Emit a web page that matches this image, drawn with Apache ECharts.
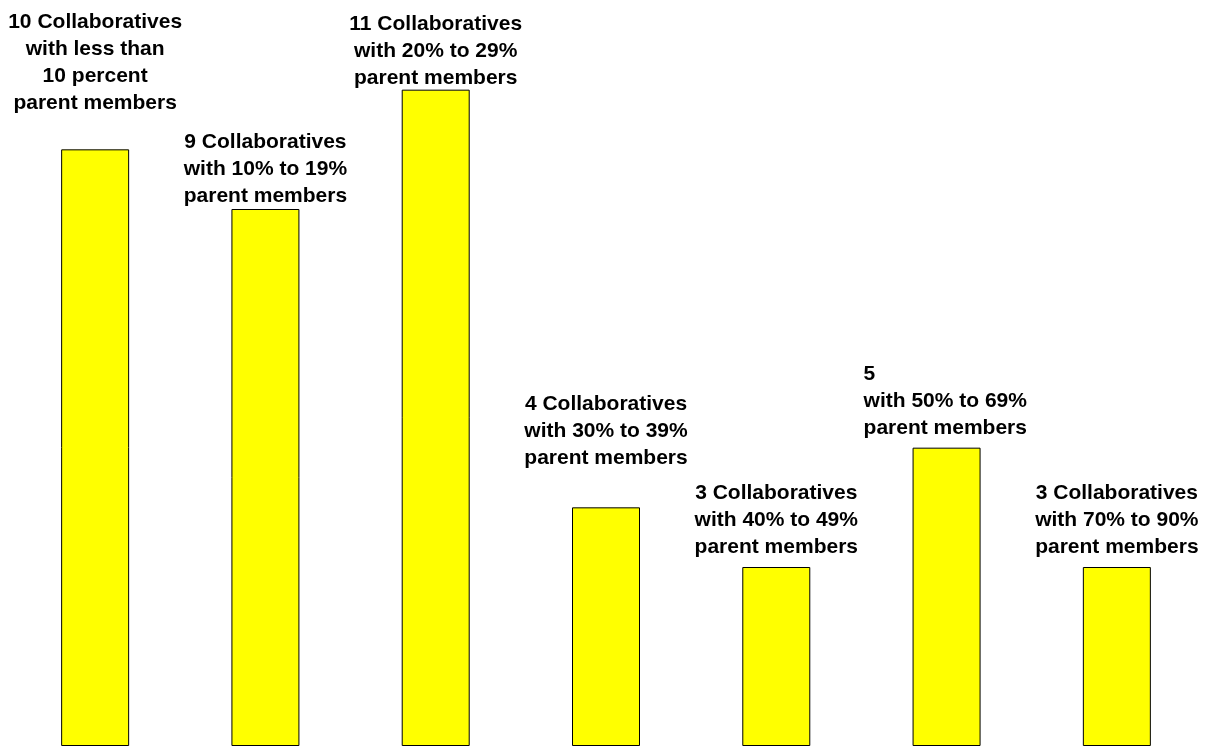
<!DOCTYPE html>
<html>
<head>
<meta charset="utf-8">
<script src="https://cdn.jsdelivr.net/npm/echarts@6/dist/echarts.min.js"></script>
<style>html,body{margin:0;padding:0;background:#fff;}#c{width:1207px;height:746px;}</style>
</head>
<body>
<div id="c"></div>
<script>
const categories = ['<10%', '10-19%', '20-29%', '30-39%', '40-49%', '50-69%', '70-90%'];
const values = [10, 9, 11, 4, 3, 5, 3];
const labels = [
  '10 Collaboratives\nwith less than\n10 percent\nparent members',
  '9 Collaboratives\nwith 10% to 19%\nparent members',
  '11 Collaboratives\nwith 20% to 29%\nparent members',
  '4 Collaboratives\nwith 30% to 39%\nparent members',
  '3 Collaboratives\nwith 40% to 49%\nparent members',
  '5\nwith 50% to 69%\nparent members',
  '3 Collaboratives\nwith 70% to 90%\nparent members'
];
const labelDistance = [33, -1, -2, 36, 6, 6, 6];

const chart = echarts.init(document.getElementById('c'), null, {renderer: 'canvas'});
const data = values.map((v, i) => {
  const item = {value: v, label: {formatter: labels[i], distance: labelDistance[i]}};
  if (i === 5) { item.label.align = 'left'; item.label.offset = [-83, 0]; }
  return item;
});
chart.setOption({
  animation: false,
  grid: {left: 10, right: 5, top: 30, height: 719, containLabel: false},
  xAxis: {type: 'category', data: categories, show: false},
  yAxis: {type: 'value', min: 0, max: 12, show: false},
  series: [{
    type: 'bar',
    data: data,
    barWidth: 68,
    itemStyle: {color: '#FFFF00', borderColor: '#000', borderWidth: 1},
    label: {
      show: true,
      position: 'top',
      color: '#000',
      fontFamily: '"Liberation Sans", Arial, sans-serif',
      fontWeight: 'bold',
      fontSize: 21,
      lineHeight: 27,
      align: 'center'
    }
  }]
});
</script>
</body>
</html>
